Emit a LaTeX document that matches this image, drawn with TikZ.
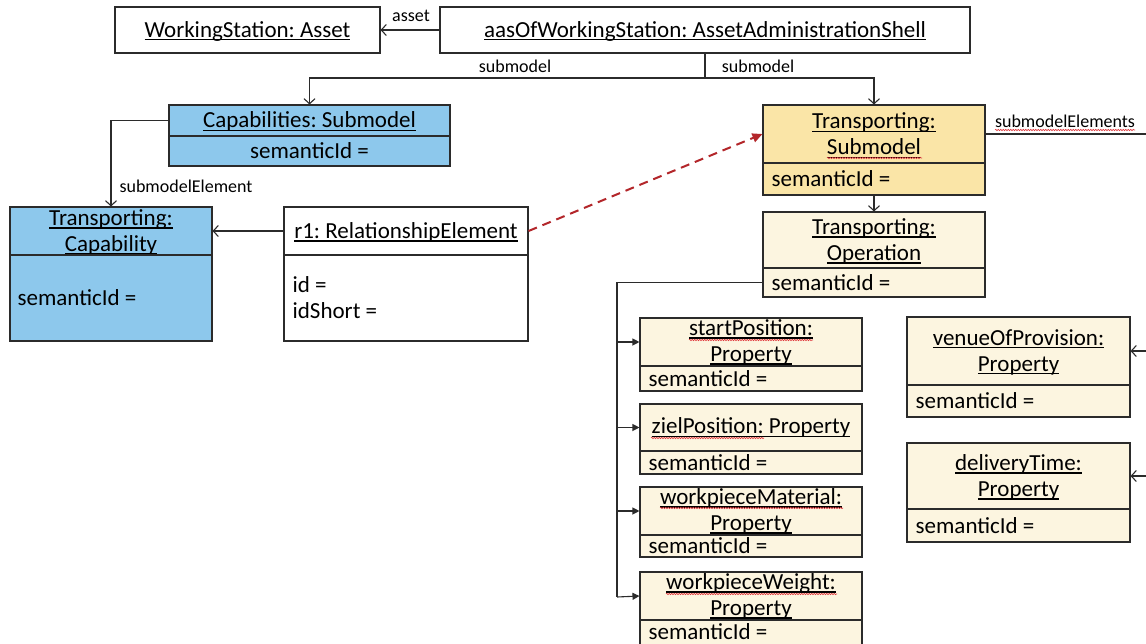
\documentclass[tikz,border=0pt]{standalone}
\usepackage{fontspec}
\setmainfont{Carlito}
\usetikzlibrary{arrows.meta,fit,calc,decorations.pathmorphing}
\definecolor{lc}{HTML}{2B2B2B}
\definecolor{capblue}{HTML}{8DC8EC}
\definecolor{smgold}{HTML}{FAE5A7}
\definecolor{cream}{HTML}{FCF5E0}
\definecolor{dred}{HTML}{B3262A}
\definecolor{spell}{HTML}{E0393E}
\frenchspacing
\newcommand\ulx[1]{\leavevmode\setbox0\hbox{#1}\rlap{\rule[-3.4pt]{\wd0}{1.1pt}}\box0}
\begin{document}
\begin{tikzpicture}[x=1pt,y=-1pt,
  box/.style={draw=lc, line width=1.1pt, inner sep=0pt},
  title/.style={inner sep=0pt, font=\fontsize{23}{26}\selectfont, align=center},
  attr/.style={inner sep=0pt, anchor=west, font=\fontsize{23}{26}\selectfont, align=left},
  lab/.style={inner sep=0pt, font=\fontsize{18}{20}\selectfont},
  line/.style={draw=lc, line width=1.1pt},
  conn/.style={line, -{Straight Barb[length=5pt,width=11pt]}},
  fconn/.style={line, -{Triangle[length=7pt,width=7pt]}},
  spellwave/.style={draw=spell, line width=0.6pt, decorate, decoration={snake, amplitude=0.7pt, segment length=2.5pt}},
]
\useasboundingbox (0,0) rectangle (1146,643);
\clip (0,0) rectangle (1146,643);
\fill[white] (0,0) rectangle (1146,643);

% top row
\node[box, fit={(115,7)(380,53)}] (ws) {};
\node[title] (wsT) at ($(ws)+(0,1)$) {\ulx{WorkingStation: Asset}};
\node[box, fit={(440,7)(970,53)}] (aas) {};
\node[title] (aasT) at ($(aas)+(0,1)$) {\ulx{aasOfWorkingStation: AssetAdministrationShell}};
\draw[conn] (aas) -- (ws);
\node[lab] (lasset) at (411,16) {asset};

% submodels
\node[box, fill=capblue, fit={(169,105)(450,136)}] (capH) {};
\node[title] (capT) at ($(capH)+(0,1)$) {\ulx{Capabilities: Submodel}};
\node[box, fill=capblue, fit={(169,136)(450,166)}] (capB) {};
\node[title] (capA) at (capB) {semanticId =};

\node[box, fill=smgold, fit={(763,105)(985,163)}] (tsH) {};
\node[title] (tsT) at ($(tsH)+(0,1)$) {\ulx{Transporting:}\\\ulx{Submodel}};
\node[box, fill=smgold, fit={(763,163)(985,195)}] (tsB) {};
\node[attr] (tsA) at ($(tsB.west)+(9,0)$) {semanticId =};

\coordinate (split) at (705,78);
\draw[line] (aas.south) -- (split);
\draw[conn] (split) -| (capH.north);
\draw[conn] (split) -| (tsH.north);
\node[lab] (lsm1) at (515,66) {submodel};
\node[lab] (lsm2) at (758,66) {submodel};

% capability
\node[box, fill=capblue, fit={(10,207)(212,255)}] (tcH) {};
\node[title] (tcT) at ($(tcH)+(0,1)$) {\ulx{Transporting:}\\\ulx{Capability}};
\node[box, fill=capblue, fit={(10,255)(212,341)}] (tcB) {};
\node[attr] (tcA) at ($(tcB.west)+(8,0)$) {semanticId =};
\draw[conn] (capH.west) -| (tcH.north);
\node[lab] (lsme) at (186,186) {submodelElement};

% relationship
\node[box, fill=white, fit={(284,207)(528,255)}] (r1H) {};
\node[title] (r1T) at ($(r1H)+(0,1)$) {\ulx{r1: RelationshipElement}};
\node[box, fill=white, fit={(284,255)(528,341)}] (r1B) {};
\node[attr] (r1A) at ($(r1B.west)+(9,0)$) {id =\\idShort =};
\draw[conn] (r1H) -- (tcH);
\draw[dred, line width=2pt, dash pattern=on 9pt off 6pt, -{Triangle[length=10pt,width=9pt]}] (r1H.east) -- (tsH.west);

% submodelElements
\coordinate (smeEnd) at (1146,134);
\draw[line] (tsH.east) -- (smeEnd);
\node[lab] (lsmes) at (1065,121) {submodelElements};

% operation
\node[box, fill=cream, fit={(763,212)(985,268)}] (opH) {};
\node[title] (opT) at ($(opH)+(0,1)$) {\ulx{Transporting:}\\\ulx{Operation}};
\node[box, fill=cream, fit={(763,268)(985,297)}] (opB) {};
\node[attr] (opA) at ($(opB.west)+(9,0)$) {semanticId =};
\draw[conn] (tsB) -- (opH);

% properties
\node[box, fill=cream, fit={(640,318)(862,366)}] (spH) {};
\node[title] (spT) at (spH) {\ulx{startPosition:}\\\ulx{Property}};
\node[box, fill=cream, fit={(640,366)(862,391)}] (spB) {};
\node[attr] (spA) at ($(spB.west)+(9,0)$) {semanticId =};

\node[box, fill=cream, fit={(640,404)(862,451)}] (zpH) {};
\node[title] (zpT) at (zpH) {\ulx{zielPosition: Property}};
\node[box, fill=cream, fit={(640,451)(862,474)}] (zpB) {};
\node[attr] (zpA) at ($(zpB.west)+(9,0)$) {semanticId =};

\node[box, fill=cream, fit={(640,487)(862,535)}] (wmH) {};
\node[title] (wmT) at (wmH) {\ulx{workpieceMaterial:}\\\ulx{Property}};
\node[box, fill=cream, fit={(640,535)(862,557)}] (wmB) {};
\node[attr] (wmA) at ($(wmB.west)+(9,0)$) {semanticId =};

\node[box, fill=cream, fit={(640,572)(862,620)}] (wwH) {};
\node[title] (wwT) at (wwH) {\ulx{workpieceWeight:}\\\ulx{Property}};
\node[box, fill=cream, fit={(640,620)(862,645)}] (wwB) {};
\node[attr] (wwA) at ($(wwB.west)+(9,-1)$) {semanticId =};

\node[box, fill=cream, fit={(907,317)(1130,385)}] (vpH) {};
\node[title] (vpT) at ($(vpH)+(0,1)$) {\ulx{venueOfProvision:}\\\ulx{Property}};
\node[box, fill=cream, fit={(907,385)(1130,417)}] (vpB) {};
\node[attr] (vpA) at ($(vpB.west)+(9,0)$) {semanticId =};

\node[box, fill=cream, fit={(907,443)(1130,509)}] (dtH) {};
\node[title] (dtT) at ($(dtH)+(0,1)$) {\ulx{deliveryTime:}\\\ulx{Property}};
\node[box, fill=cream, fit={(907,509)(1130,542)}] (dtB) {};
\node[attr] (dtA) at ($(dtB.west)+(9,0)$) {semanticId =};

% branch to properties
\coordinate (bend) at (617,597);
\draw[line] (opB.west) -| (bend);
\draw[fconn] (bend |- spH.west) -- (spH.west);
\draw[fconn] (bend |- zpH.west) -- (zpH.west);
\draw[fconn] (bend |- wmH.west) -- (wmH.west);
\draw[fconn] (bend) -- (wwH.west);

\coordinate (vpIn) at (1146,351);
\coordinate (dtIn) at (1146,476);
\draw[conn] (vpIn) -- (vpH.east);
\draw[conn] (dtIn) -- (dtH.east);

% spell-check marks
\draw[spellwave] (995,130) -- (1135,130);
\draw[spellwave] (827,158) -- (922,158);
\draw[spellwave] (689,340) -- (813,340);
\draw[spellwave] (651,438) -- (764,438);
\draw[spellwave] (660,508) -- (843,508);
\draw[spellwave] (666,594) -- (837,594);
\end{tikzpicture}
\end{document}
